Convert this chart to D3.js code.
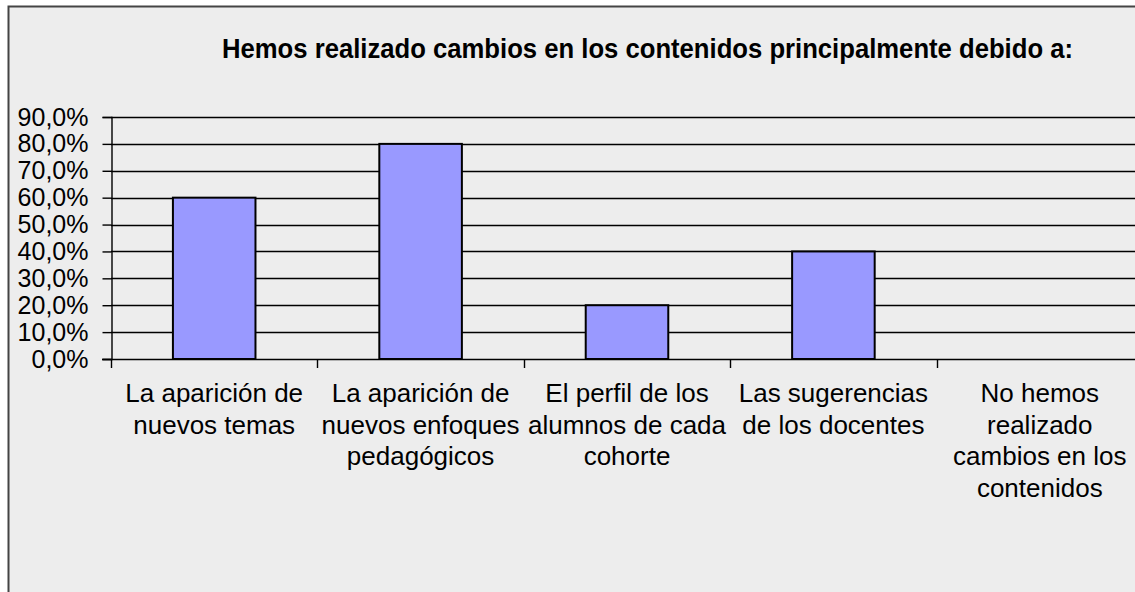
<!DOCTYPE html>
<html>
<head>
<meta charset="utf-8">
<script src="https://cdn.jsdelivr.net/npm/d3@7"></script>
<style>
  body { margin: 0; background: #fff; }
  svg { display: block; }
  text { font-family: "Liberation Sans", Arial, sans-serif; fill: #000; }
</style>
</head>
<body>
<div class="canvas"></div>
<script>
// Chart data
const categories = ["c1", "c2", "c3", "c4", "c5"];
const categoryLines = [
  ["La aparición de", "nuevos temas"],
  ["La aparición de", "nuevos enfoques", "pedagógicos"],
  ["El perfil de los", "alumnos de cada", "cohorte"],
  ["Las sugerencias", "de los docentes"],
  ["No hemos", "realizado", "cambios en los", "contenidos"]
];
const values = [0.6, 0.8, 0.2, 0.4, 0];
const yTicks = [0, 0.1, 0.2, 0.3, 0.4, 0.5, 0.6, 0.7, 0.8, 0.9];
const title = "Hemos realizado cambios en los contenidos principalmente debido a:";

const dims = { width: 1135, height: 592 };
const plot = { left: 111, right: 1143, top: 117, bottom: 359 };

const svg = d3
  .select(".canvas")
  .append("svg")
  .attr("width", dims.width)
  .attr("height", dims.height);

// Chart frame
svg
  .append("rect")
  .attr("x", 8.5)
  .attr("y", 6.5)
  .attr("width", 1200)
  .attr("height", 700)
  .attr("fill", "#ededed")
  .attr("stroke", "#444")
  .attr("stroke-width", 2);

// Title
svg
  .append("text")
  .attr("x", 647.5)
  .attr("y", 58)
  .attr("text-anchor", "middle")
  .attr("font-size", 27.5)
  .attr("font-weight", "bold")
  .attr("textLength", 851)
  .attr("lengthAdjust", "spacingAndGlyphs")
  .text(title);

// Scales
const x = d3
  .scaleBand()
  .domain(categories)
  .range([plot.left, plot.right])
  .paddingInner(0.6)
  .paddingOuter(0.3);

const y = d3
  .scaleLinear()
  .domain([0, 0.9])
  .range([plot.bottom, plot.top]);

const fmt = (v) => d3.format(".1f")(v * 100).replace(".", ",") + "%";

// Gridlines
svg
  .append("g")
  .selectAll("line")
  .data(yTicks.slice(1))
  .join("line")
  .attr("x1", plot.left)
  .attr("x2", plot.right)
  .attr("y1", (d) => Math.round(y(d)) + 0.5)
  .attr("y2", (d) => Math.round(y(d)) + 0.5)
  .attr("stroke", "#000")
  .attr("stroke-width", 1.4);

// Y axis
const yAxis = svg
  .append("g")
  .attr("transform", `translate(${plot.left + 0.5},0)`)
  .call(
    d3.axisLeft(y).tickValues(yTicks).tickSize(9).tickPadding(14).tickFormat(fmt)
  );
yAxis.select(".domain").attr("stroke", "#000").attr("stroke-width", 1.4);
yAxis.selectAll(".tick line").attr("stroke", "#000").attr("stroke-width", 1.4);
yAxis
  .selectAll(".tick text")
  .attr("font-size", 25)
  .attr("font-family", "Liberation Sans, Arial, sans-serif")
  .attr("fill", "#000");

// Bars
svg
  .append("g")
  .selectAll("rect")
  .data(values)
  .join("rect")
  .attr("x", (d, i) => x(categories[i]))
  .attr("y", (d) => y(d))
  .attr("width", x.bandwidth())
  .attr("height", (d) => y(0) - y(d))
  .attr("fill", (d) => (d > 0 ? "#9999ff" : "none"))
  .attr("stroke", (d) => (d > 0 ? "#000" : "none"))
  .attr("stroke-width", 2);

// X axis line and category ticks
const xAxis = svg.append("g");
xAxis
  .append("line")
  .attr("x1", plot.left - 9)
  .attr("x2", plot.right)
  .attr("y1", y(0) + 0.5)
  .attr("y2", y(0) + 0.5)
  .attr("stroke", "#000")
  .attr("stroke-width", 1.4);

const step = x.step();
xAxis
  .selectAll("line.tick")
  .data(d3.range(categories.length + 1))
  .join("line")
  .attr("class", "tick")
  .attr("x1", (i) => Math.round(plot.left + i * step) + 0.5)
  .attr("x2", (i) => Math.round(plot.left + i * step) + 0.5)
  .attr("y1", y(0))
  .attr("y2", y(0) + 9)
  .attr("stroke", "#000")
  .attr("stroke-width", 1.4);

// Category labels
const labels = xAxis
  .selectAll("text")
  .data(categories)
  .join("text")
  .attr("text-anchor", "middle")
  .attr("font-size", 26)
  .attr("y", 402);

labels
  .selectAll("tspan")
  .data((d, i) => categoryLines[i].map((t) => ({ t, c: d })))
  .join("tspan")
  .attr("x", (d) => x(d.c) + x.bandwidth() / 2)
  .attr("dy", (d, j) => (j === 0 ? 0 : 31.5))
  .text((d) => d.t);
</script>
</body>
</html>
